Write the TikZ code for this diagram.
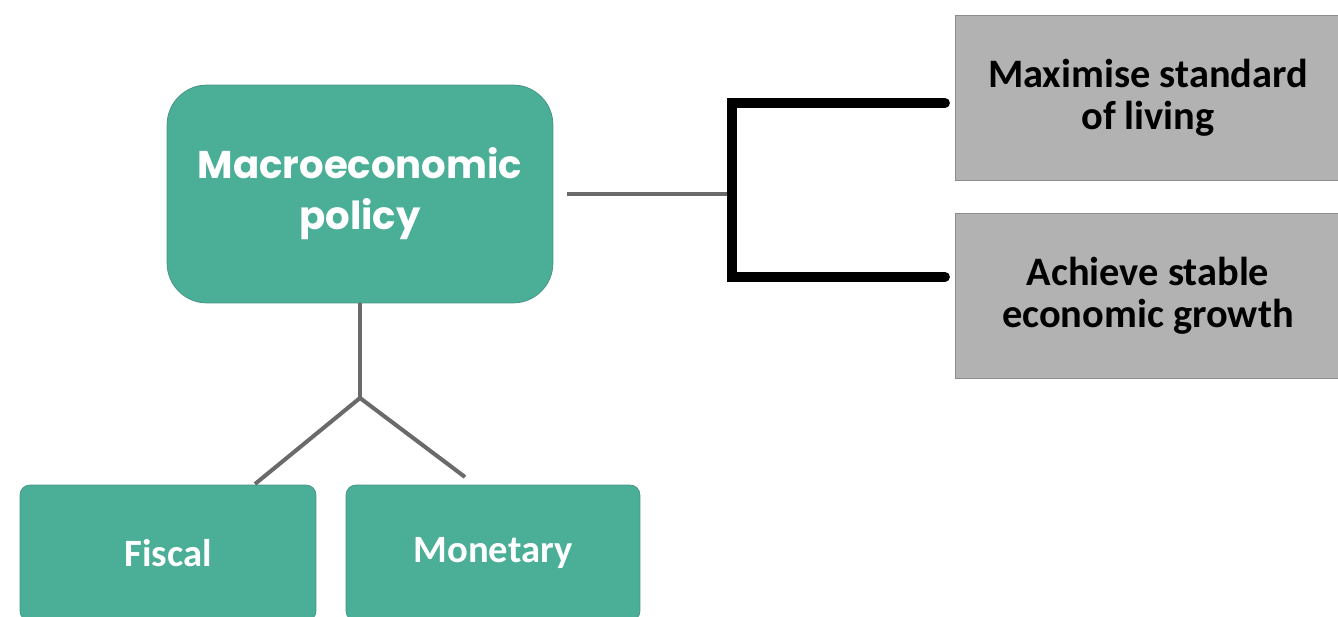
\documentclass[tikz,border=0pt]{standalone}
\usepackage{fontspec}
\setmainfont{Carlito}
\newfontfamily\headfont{Poppins}
\usetikzlibrary{positioning}

\definecolor{teal1}{HTML}{4BAE97}
\definecolor{stemgray}{HTML}{6A6A6A}

\tikzset{
  policy/.style={draw=teal1!85!black, fill=teal1, rounded corners=0.8cm,
    minimum width=7.72cm, minimum height=4.36cm, align=center,
    text=white, font=\headfont\bfseries\fontsize{22}{29}\selectfont},
  tool/.style={draw=teal1!85!black, fill=teal1, rounded corners=0.2cm,
    minimum height=2.72cm, text=white,
    font=\bfseries\fontsize{22}{26}\selectfont},
  goal/.style={draw=black!45, fill=black!30, minimum width=7.72cm,
    minimum height=3.3cm, align=center,
    font=\bfseries\fontsize{23}{24}\selectfont},
  stem/.style={draw=stemgray, line width=2.3pt},
  brace/.style={draw=black, line width=5.6pt, line cap=round, line join=miter}
}

\begin{document}
\begin{tikzpicture}[x=0.02cm, y=-0.02cm]

  \useasboundingbox (0,0) rectangle (1338,617);

  \node [policy] (macro) at (360,194) {Macroeconomic\\policy};

  \node [tool, minimum width=5.92cm] (fiscal) at (168,553) {Fiscal};
  \node [tool, minimum width=5.88cm] (monetary) at (493,553) {Monetary};

  \node [goal] (living) at (1148,97.5) {Maximise standard\\of living};
  \node [goal] (growth) at (1148,295.5) {Achieve stable\\economic growth};

  \coordinate (fork) at (360,398);
  \coordinate (fiscin) at (255,484);
  \coordinate (monin) at (465,477);
  \coordinate (brk) at (732,194);
  \coordinate (topend) at (945,103);
  \coordinate (botend) at (945,277);

  \draw [stem] (macro.south) -- (fork);
  \draw [stem] (fork) -- (fiscin);
  \draw [stem] (fork) -- (monin);
  \draw [stem, shorten <=0.28cm] (macro.east) -- (brk);
  \draw [brace] (topend) -- (topend -| brk) -- (botend -| brk) -- (botend);

\end{tikzpicture}
\end{document}
